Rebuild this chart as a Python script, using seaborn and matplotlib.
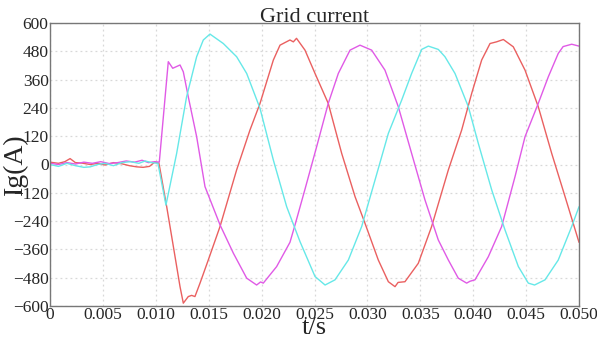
import matplotlib
matplotlib.use("Agg")
import matplotlib.pyplot as plt
import pandas as pd
import seaborn as sns

# phase A (red): time in s, current in A
red_t = [0.0, 0.0008, 0.0014, 0.0019, 0.0024, 0.003, 0.0038, 0.0045, 0.0052, 0.006, 0.0068,
         0.0075, 0.0082, 0.0088, 0.0094, 0.0099, 0.0103, 0.01103, 0.01166, 0.01229, 0.0126,
         0.01307, 0.01339, 0.0137, 0.01418, 0.01496, 0.01607, 0.01764, 0.0189, 0.01985,
         0.02111, 0.02174, 0.02268, 0.0230, 0.0233, 0.0241, 0.02505, 0.0263, 0.02757,
         0.02883, 0.02977, 0.03103, 0.03198, 0.03261, 0.0329, 0.03355, 0.03481, 0.03607,
         0.03765, 0.03891, 0.03986, 0.0408, 0.04159, 0.0422, 0.04285, 0.04379, 0.0449,
         0.04615, 0.04742, 0.04868, 0.0500]
red_i = [10, 5, 12, 25, 8, 6, 0, 5, -2, 8, 3, -5, -10, -12, -8, 10, 5, -179, -348, -518, -588,
         -560, -555, -560, -503, -405, -263, -23, 146, 259, 443, 506, 528, 520, 535, 485, 386,
         259, 47, -136, -249, -405, -497, -518, -500, -497, -419, -263, -23, 146, 302, 443,
         513, 520, 530, 499, 400, 245, 47, -136, -330]

# phase B (magenta)
mag_t = [0.0, 0.0008, 0.0016, 0.0024, 0.0032, 0.004, 0.0048, 0.0056, 0.0064, 0.0072, 0.008,
         0.0087, 0.0093, 0.0099, 0.01033, 0.01118, 0.0116, 0.01229, 0.0126, 0.01307, 0.01386,
         0.01465, 0.01607, 0.01733, 0.01859, 0.01953, 0.0199, 0.02016, 0.02142, 0.02268,
         0.02316, 0.0241, 0.0252, 0.0263, 0.02725, 0.02836, 0.0293, 0.0304, 0.03166,
         0.03292, 0.03418, 0.03544, 0.0367, 0.03765, 0.03859, 0.03938, 0.0397, 0.04017,
         0.04143, 0.04269, 0.04395, 0.0449, 0.04615, 0.0471, 0.04804, 0.0485, 0.04931,
         0.0500]
mag_i = [5, 0, 8, 2, 10, 5, 12, 4, 8, 15, 10, 18, 8, 12, 10, 436, 408, 422, 393, 287, 118,
         -94, -256, -376, -482, -511, -498, -503, -433, -330, -256, -105, 75, 259, 386, 485,
         506, 485, 400, 245, 47, -150, -320, -405, -482, -503, -495, -489, -391, -263, -52,
         118, 259, 372, 471, 500, 510, 502]

# phase C (cyan)
cyan_t = [0.0, 0.0008, 0.0016, 0.0024, 0.0032, 0.0038, 0.0045, 0.0052, 0.006, 0.0068, 0.0076,
          0.0084, 0.009, 0.0096, 0.0102, 0.01096, 0.01197, 0.01291, 0.01386, 0.01449,
          0.01512, 0.01638, 0.01764, 0.01859, 0.01985, 0.02111, 0.02237, 0.02363, 0.0241,
          0.02505, 0.026, 0.02694, 0.0282, 0.02946, 0.03072, 0.03198, 0.03324, 0.03418,
          0.03513, 0.03576, 0.0367, 0.03733, 0.03828, 0.03954, 0.04048, 0.04175, 0.04301,
          0.04427, 0.04521, 0.0458, 0.04679, 0.04804, 0.04931, 0.0500]
cyan_i = [0, -8, 5, -5, -12, -10, 0, 5, -5, 8, 12, 5, 15, 8, 5, -172, 47, 287, 457, 528, 553,
          513, 457, 386, 238, 19, -179, -327, -376, -475, -511, -489, -405, -263, -66, 132,
          273, 386, 488, 502, 488, 457, 386, 245, 90, -108, -278, -433, -503, -511, -489,
          -405, -263, -179]

frames = []
for name, t, i in [("a", red_t, red_i), ("b", mag_t, mag_i), ("c", cyan_t, cyan_i)]:
    frames.append(pd.DataFrame({"t": t, "i": i, "phase": name}))
data = pd.concat(frames, ignore_index=True)

sns.set_style("white")
plt.rcParams["font.family"] = ["Liberation Serif", "DejaVu Serif"]

fig = plt.figure(figsize=(5.97, 3.40), dpi=100)
ax = fig.add_axes([50 / 597, 1 - 306 / 340, 529 / 597, 283 / 340])

palette = {"a": "#ea6060", "b": "#e05ae6", "c": "#66e8e8"}
sns.lineplot(data=data, x="t", y="i", hue="phase", palette=palette, linewidth=1.0,
             legend=False, ax=ax, sort=False, estimator=None)

ax.set_xlim(0, 0.05)
ax.set_ylim(-600, 600)
ax.set_xticks([k * 0.005 for k in range(11)])
ax.set_xticklabels(["0"] + [f"{k * 0.005:.3f}" for k in range(1, 11)])
ax.set_yticks(list(range(-600, 601, 120)))
ax.grid(True, color="#d8d8d8", linestyle=(0, (1.5, 2.5)), linewidth=0.9)
for s in ax.spines.values():
    s.set_color("#777777")
    s.set_linewidth(1.0)
ax.tick_params(axis="both", labelsize=12.5, length=0, pad=1)
ax.set_title("Grid current", fontsize=16, pad=1)
ax.set_xlabel("t/s", fontsize=19)
ax.set_ylabel("Ig(A)", fontsize=20)
ax.xaxis.set_label_coords(0.5, -0.04)
ax.yaxis.set_label_coords(-0.042, 0.5)

fig.savefig("out.png", dpi=100)
